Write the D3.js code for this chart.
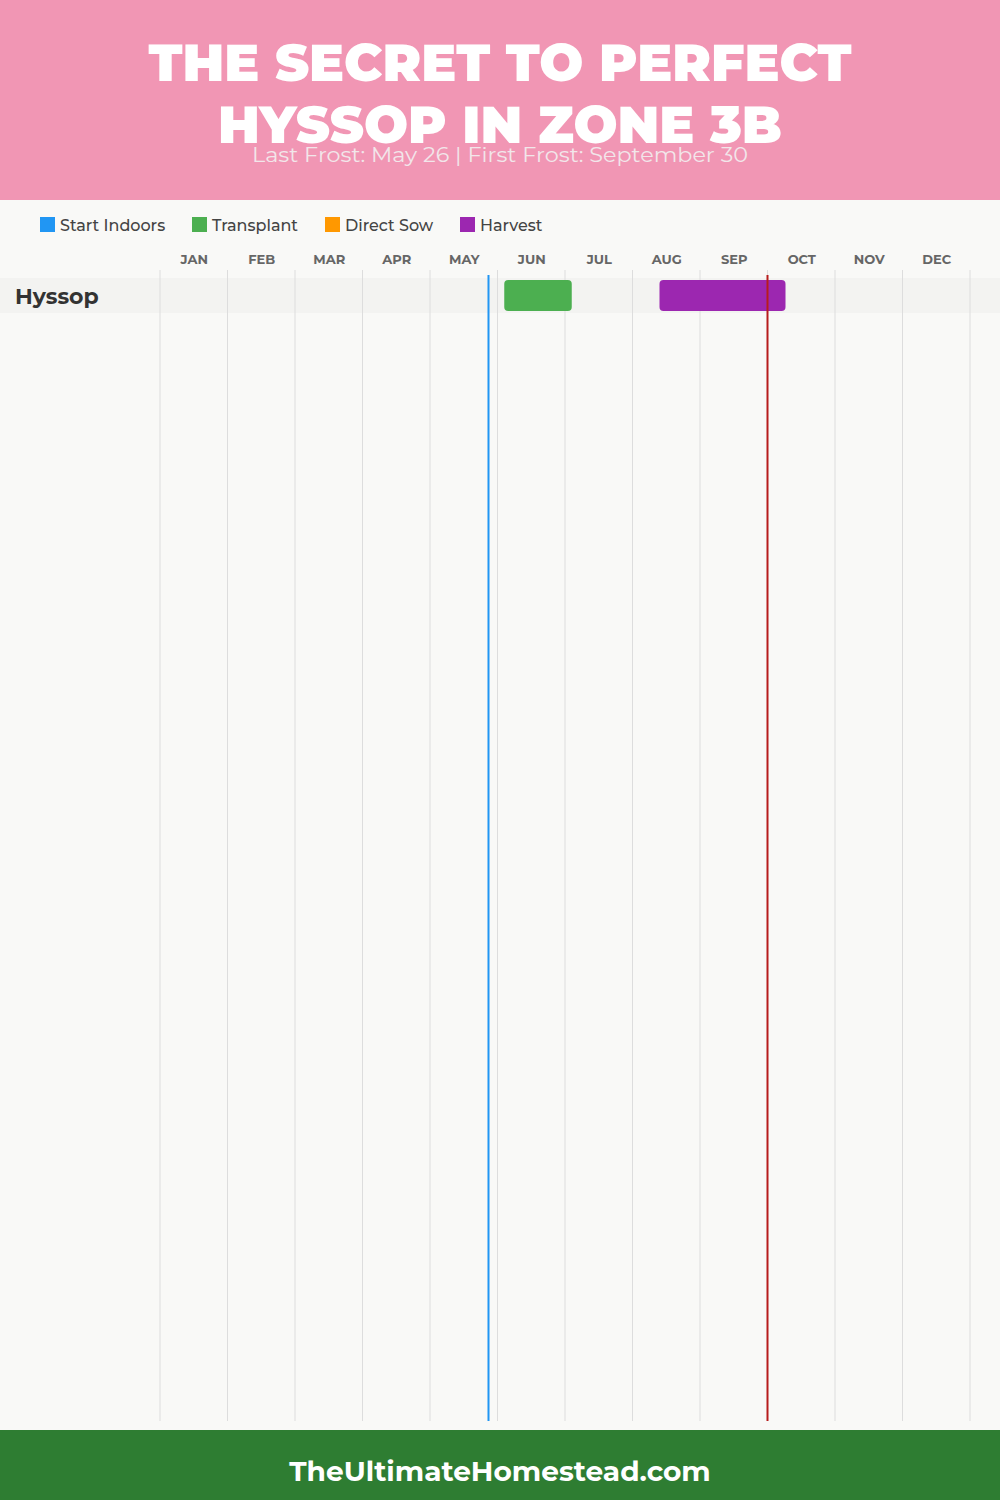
<!DOCTYPE html>
<html>
<head>
<meta charset="utf-8">
<script src="https://cdn.jsdelivr.net/npm/d3@7"></script>
<style>
  html, body { margin: 0; padding: 0; background: #F9F9F7; }
  svg { display: block; }
</style>
</head>
<body>
<svg id="chart" width="1000" height="1500"></svg>
<script>
// ---- Data ----
const titleLines = ["THE SECRET TO PERFECT", "HYSSOP IN ZONE 3B"];
const subtitle = "Last Frost: May 26 | First Frost: September 30";
const footerText = "TheUltimateHomestead.com";
const months = ["JAN","FEB","MAR","APR","MAY","JUN","JUL","AUG","SEP","OCT","NOV","DEC"];
const legendLabels = ["Start Indoors", "Transplant", "Direct Sow", "Harvest"];
const legendColors = ["#2196F3", "#4CAF50", "#FF9800", "#9C27B0"];
const plants = ["Hyssop"];
// tasks: plant, type, start [month, day], end [month, day]
const taskPlant = ["Hyssop", "Hyssop"];
const taskType  = ["Transplant", "Harvest"];
const taskStart = [[6, 3], [8, 12]];
const taskEnd   = [[7, 3], [10, 8]];
const lastFrost = [5, 26];
const firstFrost = [9, 30];

// ---- Layout ----
const W = 1000, H = 1500;
const svg = d3.select("#chart");
const FONT = "Montserrat, 'Open Sans', 'Noto Sans', sans-serif";
const toM = d => (d[0] - 1) + d[1] / 30;

const x = d3.scaleLinear().domain([0, 12]).range([160, 970]);
const y = d3.scaleBand().domain(plants).range([278, 278 + 35 * plants.length]);
const color = d3.scaleOrdinal().domain(legendLabels).range(legendColors);

// background
svg.append("rect").attr("width", W).attr("height", H).attr("fill", "#F9F9F7");

// header
svg.append("rect").attr("x", 0).attr("y", 0).attr("width", W).attr("height", 200).attr("fill", "#F196B4");
const tl = [703, 564];
svg.selectAll("text.title").data(titleLines).join("text")
  .attr("class", "title")
  .attr("x", W / 2).attr("y", (d, i) => 81 + i * 62)
  .attr("text-anchor", "middle")
  .attr("font-family", FONT).attr("font-weight", 900).attr("font-size", 52)
  .attr("fill", "#fff")
  .attr("textLength", (d, i) => tl[i]).attr("lengthAdjust", "spacingAndGlyphs")
  .text(d => d);
svg.append("text")
  .attr("x", W / 2).attr("y", 162)
  .attr("text-anchor", "middle")
  .attr("font-family", FONT).attr("font-size", 20)
  .attr("fill", "#F2E6EA")
  .attr("textLength", 496).attr("lengthAdjust", "spacingAndGlyphs")
  .text(subtitle);

// legend
const legX = [40, 192, 325, 460];
const leg = svg.append("g");
legendLabels.forEach((l, i) => {
  leg.append("rect").attr("x", legX[i]).attr("y", 217).attr("width", 15).attr("height", 15).attr("fill", color(l));
  leg.append("text").attr("x", legX[i] + 20).attr("y", 231)
    .attr("font-family", FONT).attr("font-weight", 500).attr("font-size", 16).attr("fill", "#444")
    .text(l);
});

// month axis labels
const axis = d3.axisTop(x).tickValues(d3.range(12).map(i => i + 0.5))
  .tickFormat((d, i) => months[i]).tickSize(0).tickPadding(0);
const ag = svg.append("g").attr("transform", "translate(0,264)").call(axis);
ag.select(".domain").remove();
ag.selectAll("text").attr("font-family", FONT).attr("font-weight", 700)
  .attr("font-size", 13).attr("fill", "#666").attr("text-anchor", "middle");

// row bands
svg.selectAll("rect.band").data(plants).join("rect")
  .attr("class", "band")
  .attr("x", 0).attr("width", W)
  .attr("y", d => y(d)).attr("height", y.bandwidth())
  .attr("fill", "#F3F3F1");

// gridlines
svg.append("g").selectAll("line").data(d3.range(13)).join("line")
  .attr("x1", d => x(d)).attr("x2", d => x(d))
  .attr("y1", 270).attr("y2", 1421)
  .attr("stroke", "#DDDDDD").attr("stroke-width", 1);

// plant labels
svg.selectAll("text.plant").data(plants).join("text")
  .attr("class", "plant")
  .attr("x", 15).attr("y", d => y(d) + 26)
  .attr("font-family", FONT).attr("font-weight", 700).attr("font-size", 22)
  .attr("fill", "#333")
  .text(d => d);

// task bars
svg.append("g").selectAll("rect").data(taskPlant.map((p, i) => i)).join("rect")
  .attr("x", i => x(toM(taskStart[i])))
  .attr("width", i => x(toM(taskEnd[i])) - x(toM(taskStart[i])))
  .attr("y", i => y(taskPlant[i]) + 2)
  .attr("height", y.bandwidth() - 4)
  .attr("rx", 4).attr("ry", 4)
  .attr("fill", i => color(taskType[i]));

// frost lines
svg.append("line")
  .attr("x1", x(toM(lastFrost))).attr("x2", x(toM(lastFrost)))
  .attr("y1", 275).attr("y2", 1421)
  .attr("stroke", "#2196F3").attr("stroke-width", 2);
svg.append("line")
  .attr("x1", x(toM(firstFrost))).attr("x2", x(toM(firstFrost)))
  .attr("y1", 275).attr("y2", 1421)
  .attr("stroke", "#B71C1C").attr("stroke-width", 2);

// footer
svg.append("rect").attr("x", 0).attr("y", 1430).attr("width", W).attr("height", 70).attr("fill", "#2E7D32");
svg.append("text")
  .attr("x", W / 2).attr("y", 1481)
  .attr("text-anchor", "middle")
  .attr("font-family", FONT).attr("font-weight", 700).attr("font-size", 28)
  .attr("fill", "#fff")
  .text(footerText);
</script>
</body>
</html>
